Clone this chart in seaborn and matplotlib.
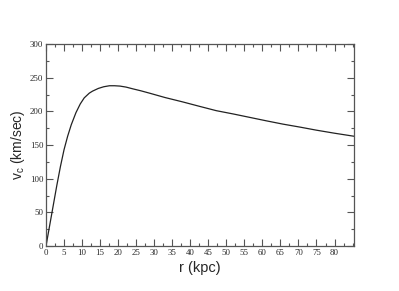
import matplotlib
matplotlib.use("Agg")
import matplotlib.pyplot as plt
import seaborn as sns
import pandas as pd
from matplotlib.ticker import MultipleLocator

r_kpc = [0.0, 1.0, 2.0, 3.0, 4.0, 5.0, 6.0, 7.0, 8.3, 9.5, 10.6, 12.0, 12.9, 14.5,
         16.0, 17.6, 19.0, 20.5, 22.2, 24.0, 26.3, 28.7, 33.0, 37.9, 42.5, 47.2, 52.0,
         56.5, 61.0, 65.7, 70.5, 75.0, 80.0, 85.4]
v_c = [0.0, 30, 60, 90, 118, 143, 163, 180, 198, 211, 220, 227, 230, 234,
       236.5, 238, 238, 237.5, 236, 233.5, 230.5, 227, 220.5, 214, 207.5, 201, 196,
       191, 186, 181, 176.5, 172, 167.5, 163]

xticks = list(range(0, 81, 5))
yticks = list(range(0, 301, 50))

df = pd.DataFrame({"r": r_kpc, "v": v_c})

sns.set_style("ticks")
plt.rcParams["font.family"] = ["Liberation Sans", "DejaVu Sans"]
plt.rcParams["mathtext.fontset"] = "custom"
plt.rcParams["mathtext.rm"] = "Liberation Sans"
plt.rcParams["mathtext.it"] = "Liberation Sans"

fig = plt.figure(figsize=(3.99, 2.91), dpi=100)
ax = fig.add_axes([46/399, 1-246/291, (354-46)/399, (246-44)/291])

sns.lineplot(data=df, x="r", y="v", ax=ax, color="#222222", linewidth=0.9)

ax.set_xlim(0, 85.4)
ax.set_ylim(0, 300)
ax.set_xticks(xticks)
ax.set_yticks(yticks)
ax.xaxis.set_minor_locator(MultipleLocator(2.5))
ax.yaxis.set_minor_locator(MultipleLocator(25))
ax.tick_params(which="both", direction="in", top=True, right=True,
               color="#555555", width=0.8)
ax.tick_params(which="major", length=5, pad=2)
ax.tick_params(which="minor", length=2.5)
for lab in ax.get_xticklabels() + ax.get_yticklabels():
    lab.set_family("Liberation Serif")
    lab.set_fontsize(6.3)
for s in ax.spines.values():
    s.set_color("#555555")
    s.set_linewidth(0.9)

ax.set_xlabel("r (kpc)", fontsize=10.5, labelpad=3)
ax.set_ylabel(r"v$_\mathregular{c}$ (km/sec)", fontsize=10, labelpad=2)

fig.savefig("out.png", dpi=100)
